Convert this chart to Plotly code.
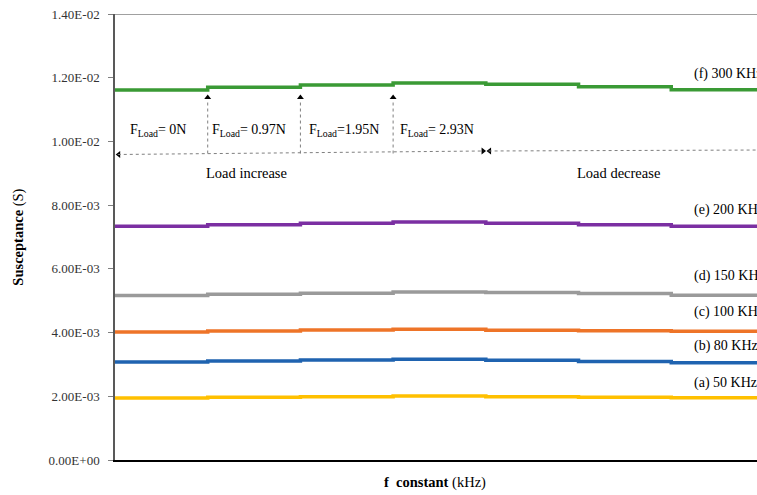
import plotly.graph_objects as go

# ---- data ----
steps = [0, 1, 2, 3, 4, 5, 6, 7]  # load-step boundaries
series_names = ["(a) 50 KHz", "(b) 80 KHz", "(c) 100 KHz", "(d) 150 KHz", "(e) 200 KHz", "(f) 300 KHz"]
s50 = [0.001946, 0.001968, 0.001987, 0.002009, 0.001985, 0.001968, 0.001956]
s80 = [0.003076, 0.003108, 0.003139, 0.003161, 0.003130, 0.003090, 0.003056]
s100 = [0.004018, 0.004049, 0.004081, 0.004103, 0.004071, 0.004055, 0.004040]
s150 = [0.005164, 0.005201, 0.005233, 0.005274, 0.005258, 0.005227, 0.005170]
s200 = [0.007336, 0.007386, 0.007430, 0.007471, 0.007430, 0.007386, 0.007336]
s300 = [0.011614, 0.011699, 0.011771, 0.011834, 0.011793, 0.011718, 0.011624]
series_values = [s50, s80, s100, s150, s200, s300]
colors = ["#FFC000", "#1F63B0", "#EE7428", "#9A9A9A", "#7B2FA2", "#3A9A35"]
label_y = [0.002408, 0.003588, 0.004655, 0.005776, 0.007848, 0.012130]

y_tick_vals = [0, 0.002, 0.004, 0.006, 0.008, 0.010, 0.012, 0.014]
y_tick_text = ["0.00E+00", "2.00E-03", "4.00E-03", "6.00E-03", "8.00E-03", "1.00E-02", "1.20E-02", "1.40E-02"]

load_labels = ["F<sub>Load</sub>= 0N", "F<sub>Load</sub>= 0.97N", "F<sub>Load</sub>=1.95N", "F<sub>Load</sub>= 2.93N"]
load_label_x = [0.14, 1.03, 2.07, 3.05]
load_label_y = 0.01033
arrow_x = [1, 2, 3]
arrow_bottom = 0.00962
arrow_top = 0.01138

SERIF = "Liberation Serif, Times New Roman, serif"
XMAX = 6.925

fig = go.Figure()

for name, vals, col in zip(series_names, series_values, colors):
    fig.add_trace(go.Scatter(
        x=steps, y=vals + [vals[-1]], mode="lines", line=dict(color=col, width=3.5, shape="hv"),
        name=name, showlegend=False, hoverinfo="skip"))

# dotted guide lines
dot = dict(color="#7f7f7f", width=1, dash="dot")
for ax_ in arrow_x:
    fig.add_shape(type="line", x0=ax_, x1=ax_, y0=arrow_bottom, y1=arrow_top - 0.00008, line=dot, xref="x", yref="y")
fig.add_shape(type="line", x0=0.03, x1=3.98, y0=0.009590, y1=0.009700, line=dot, xref="x", yref="y")
fig.add_shape(type="line", x0=4.03, x1=XMAX, y0=0.009700, y1=0.009730, line=dot, xref="x", yref="y")

# arrow heads
fig.add_trace(go.Scatter(x=arrow_x, y=[arrow_top] * 3, mode="markers",
                         marker=dict(symbol="triangle-up", size=6, color="black"),
                         showlegend=False, hoverinfo="skip", cliponaxis=False))
fig.add_trace(go.Scatter(x=[0.04, 4.04], y=[0.009590, 0.009700], mode="markers",
                         marker=dict(symbol="triangle-left", size=6, color="black"),
                         showlegend=False, hoverinfo="skip", cliponaxis=False))
fig.add_trace(go.Scatter(x=[3.97], y=[0.009700], mode="markers",
                         marker=dict(symbol="triangle-right", size=6, color="black"),
                         showlegend=False, hoverinfo="skip", cliponaxis=False))

# top border line
fig.add_shape(type="line", xref="paper", yref="y", x0=0, x1=1, y0=0.014, y1=0.014,
              line=dict(color="#808080", width=1.3))

font_txt = dict(family=SERIF, size=14, color="black")
for t, x in zip(load_labels, load_label_x):
    fig.add_annotation(x=x, y=load_label_y, text=t, showarrow=False, xanchor="left", yanchor="middle", font=font_txt)

fig.add_annotation(x=1.42, y=0.009009, text="Load increase", showarrow=False,
                   font=dict(family=SERIF, size=14.5, color="black"))
fig.add_annotation(x=5.43, y=0.009009, text="Load decrease", showarrow=False,
                   font=dict(family=SERIF, size=14.5, color="black"))

for name, ly in zip(series_names, label_y):
    fig.add_annotation(x=6.22, y=ly, text=name, showarrow=False, xanchor="left", yanchor="middle", font=font_txt)

# axis titles
fig.add_annotation(xref="paper", yref="paper", x=-0.168, y=0.5, text="<b>Susceptance</b> (S)", textangle=-90,
                   showarrow=False, font=dict(family=SERIF, size=14.5, color="black"))
fig.add_annotation(xref="paper", yref="paper", x=0.498, y=-0.05, yanchor="middle",
                   text="<b>f  constant</b> (kHz)", showarrow=False,
                   font=dict(family=SERIF, size=14.5, color="black"))

fig.update_xaxes(range=[0, XMAX], showticklabels=False, ticks="", showgrid=False, zeroline=False,
                 showline=True, linecolor="black", linewidth=1.5)
fig.update_yaxes(range=[0, 0.014], tickvals=y_tick_vals, ticktext=y_tick_text, ticks="outside",
                 ticklen=5, tickcolor="#808080", showgrid=False, zeroline=False,
                 showline=True, linecolor="#595959", linewidth=1.5, ticklabelstandoff=6,
                 tickfont=dict(family=SERIF, size=13, color="#333333"))

fig.update_layout(width=757, height=495, margin=dict(l=115, r=0, t=14, b=35),
                  plot_bgcolor="white", paper_bgcolor="white", showlegend=False)

fig.write_html("out.html", config={"displayModeBar": False},
               post_script="document.body.style.margin='0';")
